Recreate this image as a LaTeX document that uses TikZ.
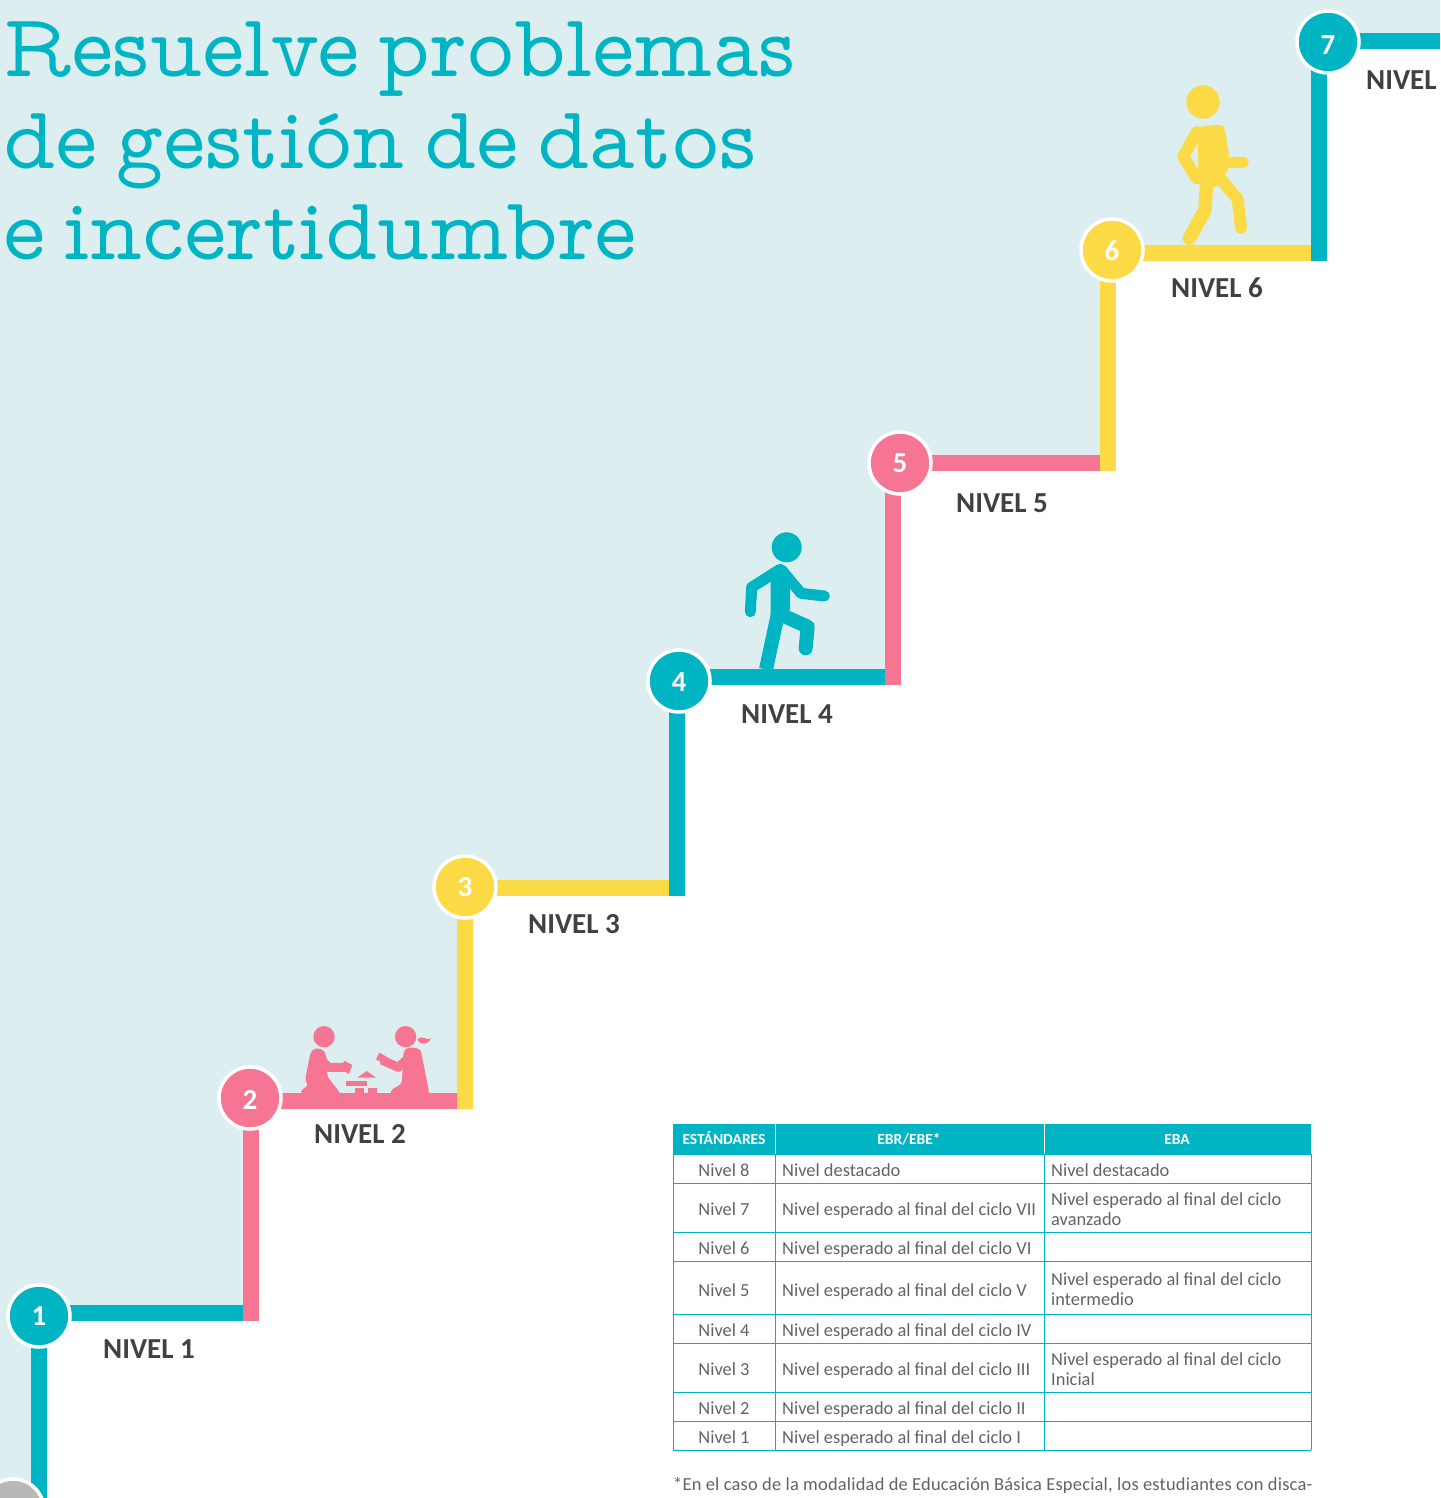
\documentclass[tikz,border=0pt]{standalone}
\usepackage{fontspec}
\usetikzlibrary{backgrounds}
\setmainfont{Carlito}
\newfontfamily\titlefont[WordSpace=0.62]{Latin Modern Mono Prop}
\definecolor{teal1}{HTML}{00B5C3}
\definecolor{pink1}{HTML}{F67592}
\definecolor{yellow1}{HTML}{FBDA46}
\definecolor{bgblue}{HTML}{DCEEF0}
\definecolor{txtdark}{HTML}{414042}
\definecolor{txtgrey}{HTML}{626366}
\tikzset{
  x=1pt,y=-1pt,
  badge/.style={circle,draw=white,line width=3.5pt,minimum size=62pt,inner sep=0pt,text=white,text height=#1,text depth=0pt,font=\fontsize{29}{29}\selectfont\bfseries},
  stepline/.style={line width=16pt},
  level/.style={anchor=base west,text=txtdark,inner sep=0pt,font=\fontsize{29}{29}\selectfont\bfseries},
  titleline/.style={anchor=base west,text=teal1,inner sep=0pt,font=\fontsize{89.6}{89.6}\selectfont\titlefont},
  rowhead/.style={text=txtgrey,inner sep=0pt,anchor=base,font=\fontsize{18.4}{18.4}\selectfont},
  cell/.style={text=txtgrey,inner sep=0pt,anchor=base west,font=\fontsize{18.4}{18.4}\selectfont},
  footnote/.style={text=txtgrey,inner sep=0pt,anchor=base west,font=\fontsize{18.4}{18.4}\selectfont\addfontfeature{LetterSpace=1.2}},
  headcell/.style={text=white,inner sep=0pt,anchor=base,font=\fontsize{15.5}{15.5}\selectfont\bfseries},
  gridline/.style={draw=teal1,line width=0.8pt},
}
\begin{document}
\begin{tikzpicture}
\useasboundingbox (0,0) rectangle (1440,1498);
\clip (0,0) rectangle (1440,1498);
% badges
\node[badge=18pt,fill=teal1] (n1) at (39,1316) {1};
\node[badge=22pt,fill=pink1] (n2) at (250,1098) {2};
\node[badge=18pt,fill=yellow1] (n3) at (465,887) {3};
\node[badge=20pt,fill=teal1] (n4) at (679,681) {4};
\node[badge=19pt,fill=pink1] (n5) at (900,463) {5};
\node[badge=21pt,fill=yellow1] (n6) at (1112,250) {6};
\node[badge=25pt,fill=teal1] (n7) at (1328,42) {7};
\node[circle,draw=white,fill=black!28,line width=3.5pt,minimum size=62pt,inner sep=0pt] (n0) at (13,1510) {};
\coordinate (k0) at (39,1498);
\coordinate (k1) at (251,1321);
\coordinate (j1) at (251,1313);
\coordinate (k2) at (465,1109);
\coordinate (j2) at (465,1101);
\coordinate (k3) at (677,896);
\coordinate (j3) at (677,888);
\coordinate (k4) at (893,685);
\coordinate (j4) at (893,677);
\coordinate (k5) at (1108,471);
\coordinate (j5) at (1108,463);
\coordinate (k6) at (1319,261);
\coordinate (j6) at (1319,253);
\coordinate (k7) at (1440,41);
\begin{pgfonlayer}{background}
\fill[white] (0,0) rectangle (1440,1498);
\fill[bgblue] (0,0) -- (1440,0) -- (k7) -- (1319,41) -- (j6) -- (1108,253) -- (j5) -- (893,463) -- (j4) -- (677,677) -- (j3) -- (465,888) -- (j2) -- (251,1101) -- (j1) -- (39,1313) -- (k0) -- (0,1498) -- cycle;
\draw[stepline,teal1] (k0) -- (k0 |- n1);
\draw[stepline,teal1] (n1 |- j1) -- (j1);
\draw[stepline,pink1] (k1) -- (k1 |- n2);
\draw[stepline,pink1] (n2 |- j2) -- (j2);
\draw[stepline,yellow1] (k2) -- (k2 |- n3);
\draw[stepline,yellow1] (n3 |- j3) -- (j3);
\draw[stepline,teal1] (k3) -- (k3 |- n4);
\draw[stepline,teal1] (n4 |- j4) -- (j4);
\draw[stepline,pink1] (k4) -- (k4 |- n5);
\draw[stepline,pink1] (n5 |- j5) -- (j5);
\draw[stepline,yellow1] (k5) -- (k5 |- n6);
\draw[stepline,yellow1] (n6 |- j6) -- (j6);
\draw[stepline,teal1] (k6) -- (k6 |- n7);
\draw[stepline,teal1] (n7 |- k7) -- (k7);
\end{pgfonlayer}
% title
\node[titleline] (t1) at (3,77) {Resuelve problemas};
\node[titleline] (t2) at (3,168) {de gestión de datos};
\node[titleline] (t3) at (3,259) {e incertidumbre};
% level labels
\node[level] (l1) at (103,1358) {NIVEL 1};
\node[level] (l2) at (314,1143) {NIVEL 2};
\node[level] (l3) at (528,933) {NIVEL 3};
\node[level] (l4) at (741,723) {NIVEL 4};
\node[level] (l5) at (956,512) {NIVEL 5};
\node[level] (l6) at (1171,297) {NIVEL 6};
\node[level] (l7) at (1366,90) {NIVEL};
% yellow walker
\begin{scope}[shift={(1060,0)},scale=1/3]
\fill[yellow1] (429,306) circle (50);
\fill[yellow1,rounded corners=4pt] (405,382) -- (485,373) -- (495,385) -- (510,490) -- (497,525) -- (465,565) -- (416,555) -- (414,440) -- cycle;
\draw[yellow1,line width=12pt,line cap=round,line join=round] (480,535) -- (533,597) -- (543,683);
\draw[yellow1,line width=13.5pt,line cap=round,line join=round] (440,540) -- (435,630) -- (388,715);
\draw[yellow1,line width=12pt,line cap=round,line join=round] (410,397) -- (370,470) -- (410,535);
\draw[yellow1,line width=11pt,line cap=round] (495,488) -- (550,487);
\end{scope}
% teal walker
\begin{scope}[shift={(640,510)},scale=1/3]
\fill[teal1] (440,112) circle (45);
\fill[teal1] (392,215) -- (420,160) -- (450,190) -- (450,300) -- (395,325) -- (392,320) -- cycle;
\draw[teal1,line width=11pt,line cap=round,line join=round] (420,178) -- (335,232) -- (331,305);
\draw[teal1,line width=11pt,line cap=round,line join=round] (425,180) -- (483,250) -- (553,258);
\draw[teal1,line width=14pt] (414,310) -- (378,478);
\draw[teal1,line width=14pt,line cap=round,line join=round] (425,315) -- (503,350) -- (497,415);
\end{scope}
% children with blocks
\begin{scope}[shift={(210,1010)},scale=1/3]
\fill[pink1] (342,80) circle (32);
\fill[pink1] (587,80) circle (32);
\fill[pink1] (622,88) .. controls (640,72) and (650,95) .. (663,85) .. controls (655,105) and (630,108) .. (622,88) -- cycle;
\fill[pink1,rounded corners=3pt] (300,135) .. controls (310,110) and (345,110) .. (350,150) -- (352,200) -- (388,245) -- (388,252) -- (272,252) -- (275,238) -- (295,228) -- (285,210) -- cycle;
\draw[pink1,line width=9pt,line join=round] (335,150) -- (355,172) -- (405,172);
\fill[pink1] (402,152) -- (427,165) -- (417,192) -- (395,180) -- cycle;
\fill[pink1,rounded corners=3pt] (580,130) .. controls (590,108) and (630,110) .. (635,135) -- (657,245) -- (657,252) -- (540,252) -- (545,238) -- (575,222) -- (578,180) -- cycle;
\draw[pink1,line width=9pt,line join=round] (595,145) -- (565,172) -- (515,150);
\fill[pink1] (508,128) -- (533,142) -- (522,162) -- (498,148) -- cycle;
\fill[pink1] (442,203) -- (470,183) -- (498,203) -- cycle;
\fill[pink1] (408,212) rectangle (470,228);
\fill[pink1] (435,235) rectangle (462,252);
\fill[pink1] (475,235) rectangle (500,252);
\end{scope}
% table
\fill[teal1] (673,1124) rectangle (1311,1154);
\draw[white,line width=1pt] (775,1124) -- (775,1154) (1044,1124) -- (1044,1154);
\foreach \yy in {1154,1183,1232,1261,1314,1343,1392,1421,1450}
  \draw[gridline] (673,\yy) -- (1311,\yy);
\draw[gridline] (673,1154) -- (673,1450) (775,1154) -- (775,1450) (1044,1154) -- (1044,1450) (1311,1154) -- (1311,1450);
\node[headcell] (h1) at (724,1144) {ESTÁNDARES};
\node[headcell] (h2) at (909,1144) {EBR/EBE*};
\node[headcell] (h3) at (1177,1144) {EBA};
\node[rowhead] (r8) at (724,1176) {Nivel 8};
\node[rowhead] (r7) at (724,1215) {Nivel 7};
\node[rowhead] (r6) at (724,1254) {Nivel 6};
\node[rowhead] (r5) at (724,1296) {Nivel 5};
\node[rowhead] (r4) at (724,1336) {Nivel 4};
\node[rowhead] (r3) at (724,1375) {Nivel 3};
\node[rowhead] (r2) at (724,1414) {Nivel 2};
\node[rowhead] (r1) at (724,1443) {Nivel 1};
\node[cell] (a8) at (782,1176) {Nivel destacado};
\node[cell] (a7) at (782,1215) {Nivel esperado al final del ciclo VII};
\node[cell] (a6) at (782,1254) {Nivel esperado al final del ciclo VI};
\node[cell] (a5) at (782,1296) {Nivel esperado al final del ciclo V};
\node[cell] (a4) at (782,1336) {Nivel esperado al final del ciclo IV};
\node[cell] (a3) at (782,1375) {Nivel esperado al final del ciclo III};
\node[cell] (a2) at (782,1414) {Nivel esperado al final del ciclo II};
\node[cell] (a1) at (782,1443) {Nivel esperado al final del ciclo I};
\node[cell] (b8) at (1051,1176) {Nivel destacado};
\node[cell] (b7a) at (1051,1205) {Nivel esperado al final del ciclo};
\node[cell] (b7b) at (1051,1225) {avanzado};
\node[cell] (b5a) at (1051,1285) {Nivel esperado al final del ciclo};
\node[cell] (b5b) at (1051,1305) {intermedio};
\node[cell] (b3a) at (1051,1365) {Nivel esperado al final del ciclo};
\node[cell] (b3b) at (1051,1385) {Inicial};
\node[footnote] (foot) at (673,1490) {*En el caso de la modalidad de Educación Básica Especial, los estudiantes con disca-};
\end{tikzpicture}
\end{document}
